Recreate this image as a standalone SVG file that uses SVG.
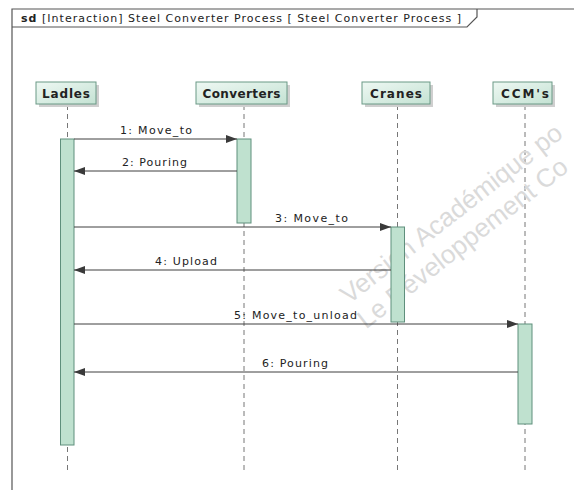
<svg xmlns="http://www.w3.org/2000/svg" width="574" height="490" viewBox="0 0 574 490">
  <defs>
    <linearGradient id="headGrad" x1="0" y1="0" x2="1" y2="1">
      <stop offset="0" stop-color="#eef8f3"/>
      <stop offset="1" stop-color="#c4e2d3"/>
    </linearGradient>
    <marker id="arrow" viewBox="0 0 11 8" refX="11" refY="4" markerWidth="11" markerHeight="8" markerUnits="userSpaceOnUse" orient="auto">
      <path d="M0,0 L11,4 L0,8 Z" fill="#3a3a3a"/>
    </marker>
    <style>
      .frame { fill: none; stroke: #555; stroke-width: 1.2; }
      .title { font-family: "DejaVu Sans", Verdana, sans-serif; font-size: 11px; fill: #222; }
      .head { fill: url(#headGrad); stroke: #6b9986; stroke-width: 1; }
      .shadow { fill: #cfcfcf; }
      .headtxt { font-family: "DejaVu Sans", Verdana, sans-serif; font-size: 12px; font-weight: bold; fill: #222; text-anchor: middle; }
      .life { stroke: #777; stroke-width: 1; stroke-dasharray: 5 4; fill: none; }
      .act { fill: #bfe1cf; stroke: #5f8f7c; stroke-width: 1; }
      .msg { stroke: #3f3f3f; stroke-width: 1; fill: none; marker-end: url(#arrow); }
      .msgtxt { font-family: "DejaVu Sans", Verdana, sans-serif; font-size: 11px; fill: #222; }
      .wm { font-family: "Liberation Sans", Arial, sans-serif; font-size: 26px; fill: #dadada; }
    </style>
  </defs>

  <g id="frame">
    <path class="frame" d="M12,500 V9 H580"/>
    <path class="frame" d="M12,27 H467 L477,17 V9"/>
    <text class="title" x="21" y="22" textLength="440" lengthAdjust="spacing"><tspan font-weight="bold">sd</tspan> [Interaction] Steel Converter Process [ Steel Converter Process ]</text>
  </g>

  <g id="lifelines">
    <line class="life" x1="67.5" y1="105" x2="67.5" y2="472"/>
    <line class="life" x1="244" y1="105" x2="244" y2="472"/>
    <line class="life" x1="397.5" y1="105" x2="397.5" y2="472"/>
    <line class="life" x1="525" y1="105" x2="525" y2="472"/>
  </g>

  <g id="watermark">
    <text class="wm" transform="translate(349,304.5) rotate(-38)">Version Académique po</text>
    <text class="wm" transform="translate(366,329.5) rotate(-38)">Le Développement Co</text>
  </g>

  <g id="Ladles">
    <rect class="shadow" x="39" y="85" width="60" height="22"/>
    <rect class="head" x="36" y="82" width="60" height="22"/>
    <text class="headtxt" x="66" y="97.5" textLength="48" lengthAdjust="spacing">Ladles</text>
    <rect class="act" x="60.5" y="139" width="13.5" height="306"/>
  </g>

  <g id="Converters">
    <rect class="shadow" x="199" y="85" width="91" height="22"/>
    <rect class="head" x="196" y="82" width="91" height="22"/>
    <text class="headtxt" x="241.5" y="97.5" textLength="78" lengthAdjust="spacing">Converters</text>
    <rect class="act" x="237" y="139" width="14" height="84"/>
  </g>

  <g id="Cranes">
    <rect class="shadow" x="365" y="85" width="68" height="22"/>
    <rect class="head" x="362" y="82" width="68" height="22"/>
    <text class="headtxt" x="396" y="97.5" textLength="52" lengthAdjust="spacing">Cranes</text>
    <rect class="act" x="391" y="227" width="13.5" height="95"/>
  </g>

  <g id="CCMs">
    <rect class="shadow" x="496" y="85" width="59" height="22"/>
    <rect class="head" x="493" y="82" width="59" height="22"/>
    <text class="headtxt" x="525" y="97.5" textLength="48" lengthAdjust="spacing">CCM's</text>
    <rect class="act" x="518" y="324" width="14" height="100"/>
  </g>

  <g id="connectors">
    <line class="msg" x1="74" y1="139" x2="237" y2="139"/>
    <text class="msgtxt" x="120" y="134" textLength="72" lengthAdjust="spacing">1: Move_to</text>
    <line class="msg" x1="237" y1="171" x2="74" y2="171"/>
    <text class="msgtxt" x="122" y="166" textLength="65" lengthAdjust="spacing">2: Pouring</text>
    <line class="msg" x1="74" y1="227" x2="391" y2="227"/>
    <text class="msgtxt" x="275" y="222" textLength="73" lengthAdjust="spacing">3: Move_to</text>
    <line class="msg" x1="391" y1="270" x2="74" y2="270"/>
    <text class="msgtxt" x="155" y="265" textLength="62" lengthAdjust="spacing">4: Upload</text>
    <line class="msg" x1="74" y1="324" x2="518" y2="324"/>
    <text class="msgtxt" x="234" y="319" textLength="123" lengthAdjust="spacing">5: Move_to_unload</text>
    <line class="msg" x1="518" y1="372" x2="74" y2="372"/>
    <text class="msgtxt" x="262" y="367" textLength="66" lengthAdjust="spacing">6: Pouring</text>
  </g>
</svg>
